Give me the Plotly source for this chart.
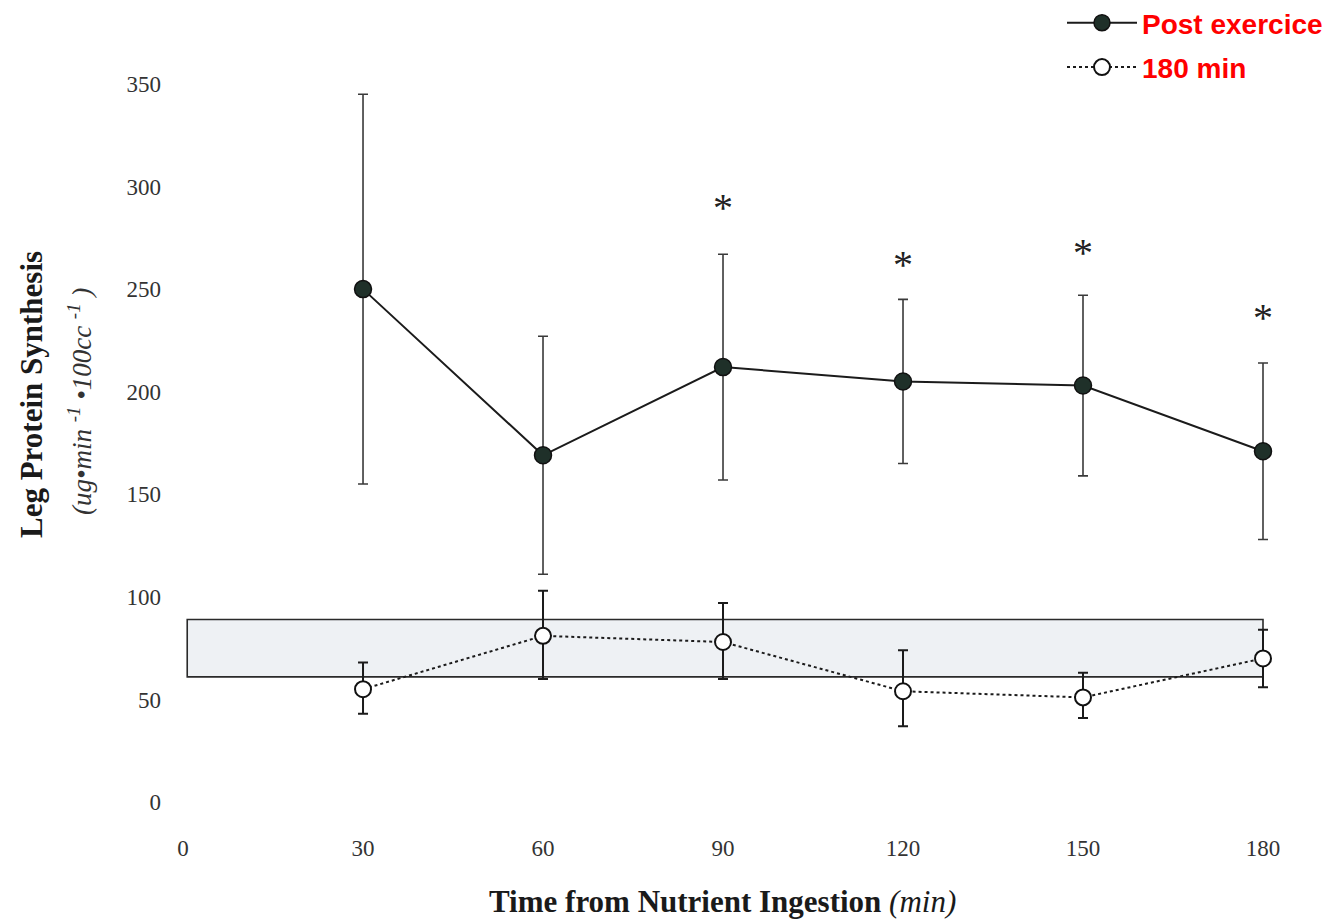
import plotly.graph_objects as go

# ---- data ----
times = [30, 60, 90, 120, 150, 180]
post_exercise = [250, 169, 212, 205, 203, 171]
post_exercise_err = [95, 58, 55, 40, 44, 43]
min180 = [55, 81, 78, 54, 51, 70]
min180_err_plus = [13, 22, 19, 20, 12, 14]
min180_err_minus = [12, 21, 18, 17, 10, 14]
star_times = [90, 120, 150, 180]
star_y = [290, 262, 268, 236]
band_low, band_high = 61, 89
band_start, band_end = 0.7, 180
x_ticks = [0, 30, 60, 90, 120, 150, 180]
y_ticks = [0, 50, 100, 150, 200, 250, 300, 350]

SERIF = "Liberation Serif"

# page body has an 8px margin: figure is drawn 8px right/down of the screen origin
OFF = 8
W, H = 1330 - OFF, 919 - OFF
L, T = 170 - OFF, 70 - OFF
PW, PH = 1120, 762
R, B = W - L - PW, H - T - PH


def px_to_paper(sx, sy):
    return (sx - OFF - L) / PW, 1 - (sy - OFF - T) / PH


fig = go.Figure()

fig.add_shape(type="rect", x0=band_start, x1=band_end, y0=band_low, y1=band_high,
              xref="x", yref="y", fillcolor="#eef1f4",
              line=dict(color="#2a2a2a", width=1.6), layer="below")

fig.add_trace(go.Scatter(
    x=times, y=post_exercise, name="Post exercice", mode="lines+markers",
    line=dict(color="#1b1b1b", width=2),
    marker=dict(size=17, color="#1f3029", line=dict(color="#111", width=1.5)),
    error_y=dict(type="data", array=post_exercise_err, visible=True,
                 color="#3a3a3a", thickness=1.6, width=5),
    legendgroup="a",
))
fig.add_trace(go.Scatter(
    x=times, y=min180, name="180 min", mode="lines+markers",
    line=dict(color="#1b1b1b", width=2, dash="dot"),
    marker=dict(size=16, color="white", line=dict(color="#111", width=2)),
    error_y=dict(type="data", array=min180_err_plus, arrayminus=min180_err_minus,
                 visible=True, color="#1b1b1b", thickness=2, width=5),
    legendgroup="b",
))

for t, yv in zip(star_times, star_y):
    fig.add_annotation(x=t, y=yv, text="*", showarrow=False, xref="x", yref="y",
                       font=dict(family=SERIF, size=40, color="#222"))

ax, ay = px_to_paper(31, 395)
fig.add_annotation(x=ax, y=ay, xref="paper", yref="paper", textangle=-90,
                   xanchor="center", yanchor="middle",
                   text="<b>Leg Protein Synthesis</b>", showarrow=False,
                   font=dict(family=SERIF, size=31, color="#1a1a1a"))
ax, ay = px_to_paper(80, 402)
fig.add_annotation(x=ax, y=ay, xref="paper", yref="paper", textangle=-90,
                   xanchor="center", yanchor="middle",
                   text="<i>(ug•min <sup>-1</sup> •100cc <sup>-1</sup> )</i>", showarrow=False,
                   font=dict(family=SERIF, size=27, color="#333"))
ax, ay = px_to_paper(722, 901)
fig.add_annotation(x=ax, y=ay, xref="paper", yref="paper",
                   xanchor="center", yanchor="middle",
                   text="<b>Time from Nutrient Ingestion</b> <i>(min)</i>", showarrow=False,
                   font=dict(family=SERIF, size=31, color="#1a1a1a"))

fig.update_layout(
    width=W, height=H,
    margin=dict(l=L, r=R, t=T, b=B, autoexpand=False),
    plot_bgcolor="white", paper_bgcolor="white",
    showlegend=True,
    legend=dict(x=(W - 2 - L) / PW, y=1 + (T + 10) / PH,
                xanchor="right", yanchor="top",
                font=dict(family="Liberation Sans", size=28, color="#ff0000", weight="bold"),
                itemwidth=70, tracegroupgap=5, traceorder="grouped",
                bgcolor="rgba(0,0,0,0)"),
    xaxis=dict(range=[-2.17, 184.5], tickvals=x_ticks, ticktext=[str(v) for v in x_ticks],
               showgrid=False, zeroline=False, showline=False, ticks="", automargin=False,
               tickfont=dict(family=SERIF, size=23, color="#333")),
    yaxis=dict(range=[-14.6, 356.8], tickvals=y_ticks, ticktext=[str(v) for v in y_ticks],
               showgrid=False, zeroline=False, showline=False, ticks="", automargin=False,
               ticklabelstandoff=8,
               tickfont=dict(family=SERIF, size=23, color="#333")),
)

fig.write_html("out.html")
